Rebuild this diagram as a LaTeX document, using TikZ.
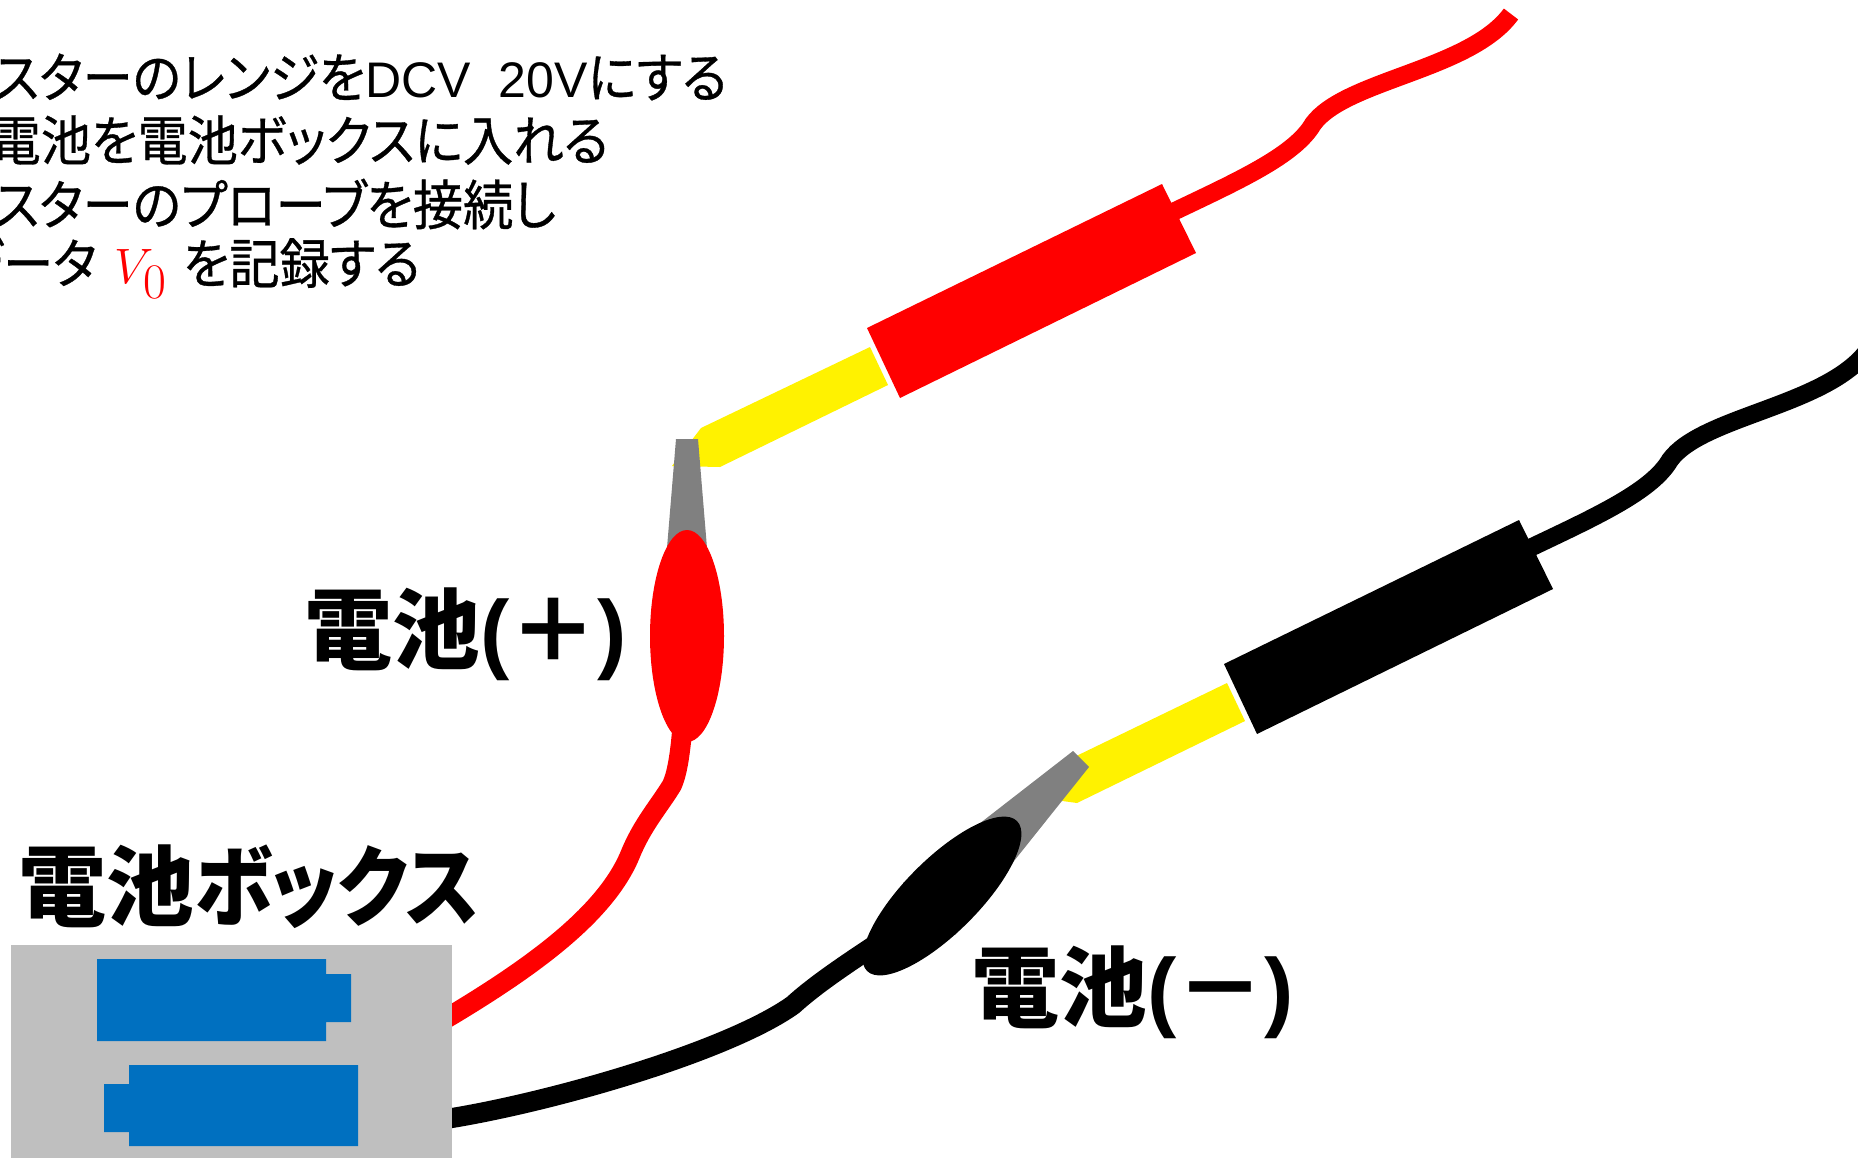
\documentclass[tikz,border=0pt]{standalone}
\usepackage{fontspec}
\usepackage{amsmath}
\usetikzlibrary{shapes.geometric}

\newfontfamily\jp[FakeStretch=0.93, FakeBold=0.6, RawFeature=+palt]{Noto Sans CJK JP}
\newfontfamily\jptag[RawFeature=+palt]{Noto Sans CJK JP}
\newfontfamily\lat{Liberation Sans}
\definecolor{boxgray}{HTML}{BFBFBF}
\definecolor{cellblue}{HTML}{0070C0}
\definecolor{jawgray}{HTML}{808080}

\begin{document}
\begin{tikzpicture}[x=0.5pt, y=-0.5pt,
    lead/.style={line width=10pt},
    wire/.style={line width=9pt},
    tip/.style={fill=yellow},
    jaw/.style={fill=jawgray},
    cell/.style={fill=cellblue},
    clipbody/.style={ellipse, inner sep=0pt, minimum width=37pt, minimum height=106pt},
    note/.style={font=\jp\fontsize{27}{30}\selectfont, anchor=west, inner sep=0pt},
    tag/.style={font=\jptag\bfseries\fontsize{44}{48}\selectfont, anchor=west, inner sep=0pt}]
  \useasboundingbox (0,0) rectangle (1858,1157);
  \clip (0,0) rectangle (1858,1157);

  % steps
  \node[note] (s1) at (-52,77)  {テスターのレンジを{\lat\fontsize{25}{30}\selectfont DCV\hspace{14pt}20V}にする};
  \node[note] (s2) at (-60,140) {乾電池を電池ボックスに入れる};
  \node[note] (s3) at (-52,204) {テスターのプローブを接続し};
  \node[note] (s4) at (-44,268) {データ\hspace{9pt}\textcolor{red}{\fontsize{33}{33}\selectfont$V_0$}\hspace{8pt}を記録する};

  % clip centres and box terminals
  \coordinate (plus)  at (687,636);
  \coordinate (minus) at (942,896);
  \coordinate (boxP)  at (452,1015);
  \coordinate (boxN)  at (452,1118);

  % leads from the box to the clips
  \draw[lead, red] (440,1022) -- (boxP) .. controls (530,968) and (605,915) .. (630,855)
        .. controls (642,825) and (660,805) .. (672,785) .. controls (681,765) and (684,720) .. (plus);
  \draw[lead] (440,1120) -- (boxN) .. controls (560,1100) and (730,1050) .. (793,1005)
        .. controls (815,985) and (845,965) .. (875,945) -- (minus);

  % probe bodies and cables
  \foreach \dx/\dy/\col in {0/0/red, 357/336/black} {
    \begin{scope}[shift={(\dx,\dy)}]
      \draw[wire, \col] (1165,216) -- (1175,211) .. controls (1240,180) and (1295,155) .. (1313,124)
            .. controls (1345,80) and (1470,70) .. (1511,14);
      \fill[\col] (867,328) -- (1162,184) -- (1196,253) -- (900,398) -- cycle;
    \end{scope}
  }

  % probe tips
  \fill[tip] (672,466) -- (701,428) -- (870,347) -- (888,385) -- (720,467) -- cycle;
  \fill[tip] (1055,800) -- (1068,760) -- (1227,683) -- (1245,721) -- (1077,803) -- cycle;

  % clip jaws
  \fill[jaw] (676,439) -- (698,439) -- (708,560) -- (666,560) -- cycle;
  \fill[jaw] (1073,751) -- (1089,767) -- (955,935) -- (903,883) -- cycle;

  % clips
  \node[clipbody, fill=red] (clipP) at (plus) {};
  \node[clipbody, fill=black, rotate=-45] (clipN) at (minus) {};

  % battery box
  \fill[boxgray] (11,945) rectangle (452,1170);
  \fill[cell] (97,959) rectangle (326,1041) (326,974) rectangle (351,1022);
  \fill[cell] (129,1065) rectangle (358,1146) (104,1084) rectangle (129,1132);

  \node[tag] (box) at (18,887)  {電池{\addfontfeature{FakeStretch=0.89}ボックス}};
  \node[tag] (pos) at (304,634) {電池{\lat\bfseries(}＋{\lat\bfseries)}};
  \node[tag] (neg) at (971,992) {電池{\lat\bfseries(}－{\lat\bfseries)}};
\end{tikzpicture}
\end{document}
